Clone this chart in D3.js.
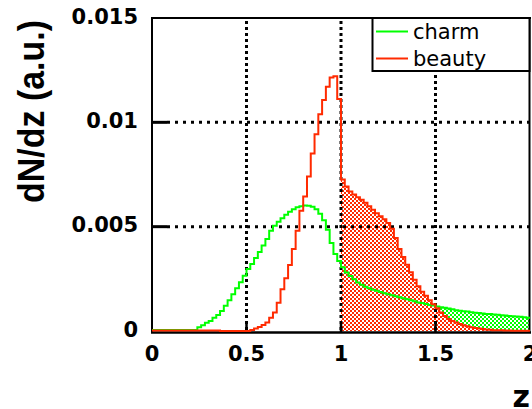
<!DOCTYPE html>
<html><head><meta charset="utf-8">
<script src="https://cdn.jsdelivr.net/npm/d3@7"></script>
<style>body{margin:0;background:#fff}svg{display:block}</style>
</head><body><svg id="c" width="532" height="409"></svg>
<script>
// ---- data (dN/dz values in units of 1e-3, one per z bin of width 0.02 starting at 0) ----
const binWidth = 0.02;
const binLow = d3.range(0, 100).map(i => +(i * binWidth).toFixed(2));
const charm = [
  0.05,0.05,0.05,0.05,0.05,0.05,0.05,0.05,0.05,0.05,0.05,0.05,
  0.18,0.27,0.39,0.48,0.63,0.77,0.96,1.21,1.47,1.76,2.05,2.34,2.65,2.97,3.21,3.50,3.79,4.10,
  4.41,4.80,5.04,5.23,5.40,5.57,5.72,5.84,5.93,5.98,6.02,6.00,5.96,5.84,5.62,5.31,4.85,4.22,3.69,3.35,
  3.06,2.80,2.63,2.48,2.32,2.22,2.12,2.05,1.98,1.93,1.87,1.81,1.76,1.71,1.66,1.62,1.57,1.52,1.47,1.42,
  1.37,1.34,1.29,1.25,1.22,1.18,1.14,1.11,1.08,1.04,1.00,0.97,0.95,0.93,0.90,0.88,0.86,0.84,0.82,0.81,
  0.79,0.78,0.76,0.74,0.72,0.71,0.69,0.68,0.66,0.64
];
const beauty = [
  0.02,0.02,0.02,0.02,0.02,0.02,0.02,0.02,0.02,0.02,0.02,0.02,0.02,0.02,0.02,0.02,0.02,0.02,
  0,0,0,0,0,0,0,0,
  0.05,0.12,0.19,0.29,0.41,0.63,0.89,1.35,2.00,2.53,3.16,3.93,4.80,5.76,6.44,7.40,8.51,9.43,10.39,11.07,11.70,12.15,12.21,11.12,
  7.26,6.92,6.68,6.54,6.41,6.29,6.15,5.98,5.81,5.64,5.50,5.35,5.18,4.90,4.46,3.93,3.55,3.18,2.82,2.46,
  2.15,1.88,1.69,1.47,1.28,1.09,0.89,0.72,0.58,0.48,0.41,0.34,0.27,0.23,0.18,0.14,0.12,0.10,0.07,0.06,
  0.04,0.03,0.03,0.02,0.02,0.01,0.01,0.01,0.01,0.01
];
const valueUnit = 1e-3;
const seriesNames = ["charm", "beauty"];
const seriesColors = ["#00ff00", "#ff2a00"];
const xTicks = [0, 0.5, 1, 1.5, 2];
const xTickLabels = ["0", "0.5", "1", "1.5", "2"];
const yTicks = [0, 0.005, 0.01, 0.015];
const yTickLabels = ["0", "0.005", "0.01", "0.015"];
const hatchStart = 1;

// ---- drawing ----
const svg = d3.select("#c");
const x = d3.scaleLinear().domain([0, 2]).range([152, 530]);
const y = d3.scaleLinear().domain([0, 0.015]).range([331, 18]);

function pts(vals) {
  const p = binLow.map((z, i) => ({z, v: vals[i] * valueUnit}));
  p.push({z: 2, v: vals[vals.length - 1] * valueUnit});
  return p;
}
const charmPts = pts(charm), beautyPts = pts(beauty);

const defs = svg.append("defs");
function pattern(id, color) {
  const p = defs.append("pattern").attr("id", id).attr("patternUnits", "userSpaceOnUse")
    .attr("width", 4).attr("height", 4);
  p.append("rect").attr("width", 4).attr("height", 4).attr("fill", "#fff");
  p.append("rect").attr("x", 0).attr("y", 0).attr("width", 2).attr("height", 2).attr("fill", color);
  p.append("rect").attr("x", 2).attr("y", 2).attr("width", 2).attr("height", 2).attr("fill", color);
}
pattern("hG", seriesColors[0]);
pattern("hR", seriesColors[1]);

svg.append("rect").attr("width", 532).attr("height", 409).attr("fill", "#fff");

const area = d3.area().curve(d3.curveStepAfter)
  .x(d => x(d.z)).y0(y(0)).y1(d => y(d.v));
svg.append("path").datum(charmPts.filter(d => d.z >= hatchStart))
  .attr("d", area).attr("fill", "url(#hG)");
svg.append("path").datum(beautyPts.filter(d => d.z >= hatchStart))
  .attr("d", area).attr("fill", "url(#hR)");

// grid
svg.selectAll(".vg").data(xTicks.slice(1, -1)).enter().append("line")
  .attr("x1", d => x(d)).attr("x2", d => x(d)).attr("y1", 21).attr("y2", 331)
  .attr("stroke", "#000").attr("stroke-width", 3).attr("stroke-dasharray", "3,3");
svg.selectAll(".hg").data(yTicks.slice(1, -1)).enter().append("line")
  .attr("x1", 167).attr("x2", 529).attr("y1", d => y(d)).attr("y2", d => y(d))
  .attr("stroke", "#000").attr("stroke-width", 3).attr("stroke-dasharray", "3,5");

// axes frame and ticks
svg.selectAll(".yt").data(yTicks.slice(1, -1)).enter().append("line")
  .attr("x1", 152).attr("x2", 167).attr("y1", d => y(d)).attr("y2", d => y(d))
  .attr("stroke", "#000").attr("stroke-width", 3);
svg.selectAll(".xt").data(xTicks.slice(1, -1)).enter().append("line")
  .attr("x1", d => x(d)).attr("x2", d => x(d)).attr("y1", 332).attr("y2", 324)
  .attr("stroke", "#000").attr("stroke-width", 2.5);
svg.append("line").attr("x1", 151).attr("x2", 531).attr("y1", 332.5).attr("y2", 332.5)
  .attr("stroke", "#000").attr("stroke-width", 2.5);
svg.append("line").attr("x1", 152).attr("x2", 152).attr("y1", 17).attr("y2", 333)
  .attr("stroke", "#000").attr("stroke-width", 2);
svg.append("line").attr("x1", 151).attr("x2", 531).attr("y1", 18).attr("y2", 18)
  .attr("stroke", "#000").attr("stroke-width", 2);
svg.append("line").attr("x1", 529.5).attr("x2", 529.5).attr("y1", 17).attr("y2", 333)
  .attr("stroke", "#000").attr("stroke-width", 2);

// curves
const line = d3.line().curve(d3.curveStepAfter).x(d => x(d.z)).y(d => y(d.v));
[charmPts, beautyPts].forEach((p, i) => {
  svg.append("path").datum(p).attr("d", line).attr("fill", "none")
    .attr("stroke", seriesColors[i]).attr("stroke-width", 2);
});

// tick labels
const fontT = "'DejaVu Sans', sans-serif";
svg.selectAll(".yl").data(yTicks).enter().append("text")
  .attr("x", 138).attr("y", d => y(d) + 5.5).attr("text-anchor", "end")
  .attr("font-family", fontT).attr("font-weight", "bold").attr("font-size", 21)
  .text((d, i) => yTickLabels[i]);
svg.selectAll(".xl").data(xTicks).enter().append("text")
  .attr("x", d => x(d)).attr("y", 361).attr("text-anchor", "middle")
  .attr("font-family", fontT).attr("font-weight", "bold").attr("font-size", 21)
  .text((d, i) => xTickLabels[i]);

// axis titles
svg.append("text").attr("transform", "translate(44,111.5) rotate(-90) scale(1,1.1)")
  .attr("text-anchor", "middle").attr("font-family", "'Liberation Sans', Arial, sans-serif")
  .attr("font-weight", "bold").attr("font-size", 34)
  .attr("textLength", 183).attr("lengthAdjust", "spacingAndGlyphs")
  .text("dN/dz (a.u.)");
svg.append("text").attr("x", 530).attr("y", 406.5).attr("text-anchor", "end")
  .attr("font-family", fontT).attr("font-weight", "bold").attr("font-size", 30).text("z");

// legend
svg.append("rect").attr("x", 372.5).attr("y", 18).attr("width", 157).attr("height", 53)
  .attr("fill", "#fff").attr("stroke", "#000").attr("stroke-width", 2);
seriesNames.forEach((n, i) => {
  const ly = 31.5 + i * 27;
  svg.append("line").attr("x1", 376).attr("x2", 408).attr("y1", ly).attr("y2", ly)
    .attr("stroke", seriesColors[i]).attr("stroke-width", 2);
  svg.append("text").attr("x", 413).attr("y", ly + 7).attr("font-family", fontT)
    .attr("font-size", 21).attr("fill", "#000").text(n);
});
</script></body></html>
